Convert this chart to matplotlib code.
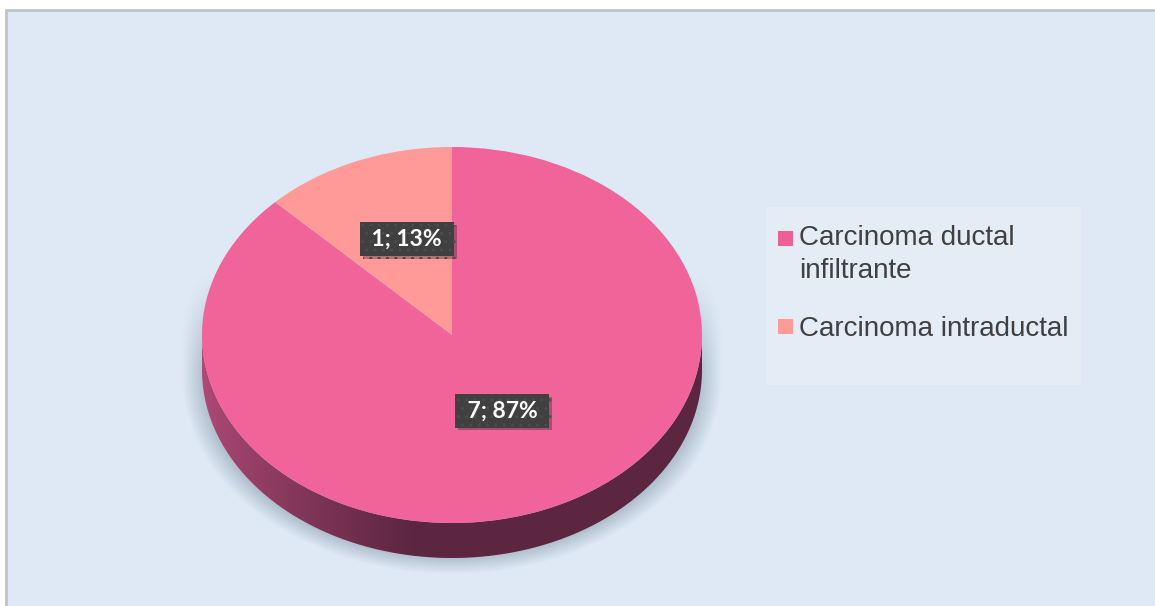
import numpy as np
import matplotlib.pyplot as plt
from matplotlib.patches import Rectangle, Polygon
import matplotlib.patheffects as pe

# tipos histológicos
categorias = ['Carcinoma ductal\ninfiltrante', 'Carcinoma intraductal']
casos = [7, 1]
porcentajes = [87, 13]
colores = ['#f0649a', '#ff9a98']
colores_leyenda = ['#ee5f95', '#ff9b96']

W, H = 1155, 606
fig = plt.figure(figsize=(W / 100, H / 100), dpi=100, facecolor='white')

# fondo en coordenadas de pixel
bg = fig.add_axes([0, 0, 1, 1])
bg.set_xlim(0, W)
bg.set_ylim(H, 0)
bg.axis('off')
bg.add_patch(Rectangle((6, 10), W, H, facecolor='#dee9f5', edgecolor='#c2c2c2', lw=2))

# sombra difusa bajo el cilindro
yy, xx = np.mgrid[250:606, 150:770] + 0.5
cx, cy0, cy1 = 452, 340, 378
A, B = 270, 196
dy = np.where(yy < cy0, yy - cy0, np.where(yy > cy1, yy - cy1, 0))
r = np.hypot((xx - cx) / A, dy / B)
alpha = np.clip((1.0 - r) / 0.09, 0, 1) * np.clip((yy - 275) / 90, 0, 1) * 0.6
sombra = np.zeros(xx.shape + (4,))
sombra[..., 0], sombra[..., 1], sombra[..., 2] = 0.55, 0.62, 0.68
sombra[..., 3] = alpha
bg.imshow(sombra, extent=(150, 770, 606, 250), interpolation='bilinear', zorder=1)
bg.set_aspect('auto')

# leyenda (y = línea base de la última línea de cada entrada)
bg.add_patch(Rectangle((766, 207), 315, 178, facecolor='#e4edf6', edgecolor='none', zorder=2))
y_ent = [278, 336]
y_marca = [231, 319]
for lab, col, yb, ym in zip(categorias, colores_leyenda, y_ent, y_marca):
    bg.add_patch(Rectangle((778, ym), 15, 15, facecolor=col, edgecolor='none', zorder=3))
    bg.text(799, yb, lab, fontsize=20, family='Liberation Sans', color='#404040',
            va='baseline', ha='left', linespacing=1.34, zorder=3)

# pastel inclinado: radio 250 px en x, 188 px en y
cxp, cyp, ax_px, by_px = 452, 335, 250, 188
lim = 1.2
ax = fig.add_axes([(cxp - lim * ax_px) / W, (H - cyp - lim * by_px) / H,
                   2 * lim * ax_px / W, 2 * lim * by_px / H])
prof = 35 / by_px

# lateral del cilindro con degradado
t = np.linspace(np.pi, 2 * np.pi, 200)
lado = np.vstack([np.column_stack([np.cos(t), np.sin(t) - prof]),
                  np.column_stack([np.cos(t[::-1]), np.sin(t[::-1])])])
poly = Polygon(lado, closed=True, facecolor='none', edgecolor='none')
ax.add_patch(poly)
gx = np.linspace(-1, 1, 400)
claro = np.array([176, 74, 120]) / 255
oscuro = np.array([92, 38, 64]) / 255
k = np.clip((gx + 1) / 0.85, 0, 1) ** 0.8
grad = (claro[None, :] * (1 - k[:, None]) + oscuro[None, :] * k[:, None])[None, :, :]
im = ax.imshow(grad, extent=(-1, 1, -1 - prof, 0), aspect='auto', interpolation='bilinear')
im.set_clip_path(poly)

wedges, _ = ax.pie(casos, colors=colores, startangle=90, counterclock=False,
                   wedgeprops=dict(linewidth=0))
ax.set_aspect('auto')
ax.set_xlim(-lim, lim)
ax.set_ylim(-lim, lim)
ax.patch.set_visible(False)
ax.axis('off')

# etiquetas de datos: distancia al centro y giro respecto al ángulo medio
dist = [0.45, 0.54]
giro = [4, -3]
for w, n, p, d, g in zip(wedges, casos, porcentajes, dist, giro):
    ang = np.deg2rad((w.theta1 + w.theta2) / 2 + g)
    x, y = d * np.cos(ang), d * np.sin(ang)
    ax.text(x, y, f' {n}; {p}% ', fontsize=16.5, family='Lato', weight='bold', color='white',
            ha='center', va='center',
            bbox=dict(boxstyle='square,pad=0.28', facecolor='#404040', edgecolor='#4c4c4c',
                      lw=0, hatch='..',
                      path_effects=[pe.SimplePatchShadow(offset=(2, -2), alpha=0.3),
                                    pe.Normal()]))

fig.savefig('out.png', dpi=100)
